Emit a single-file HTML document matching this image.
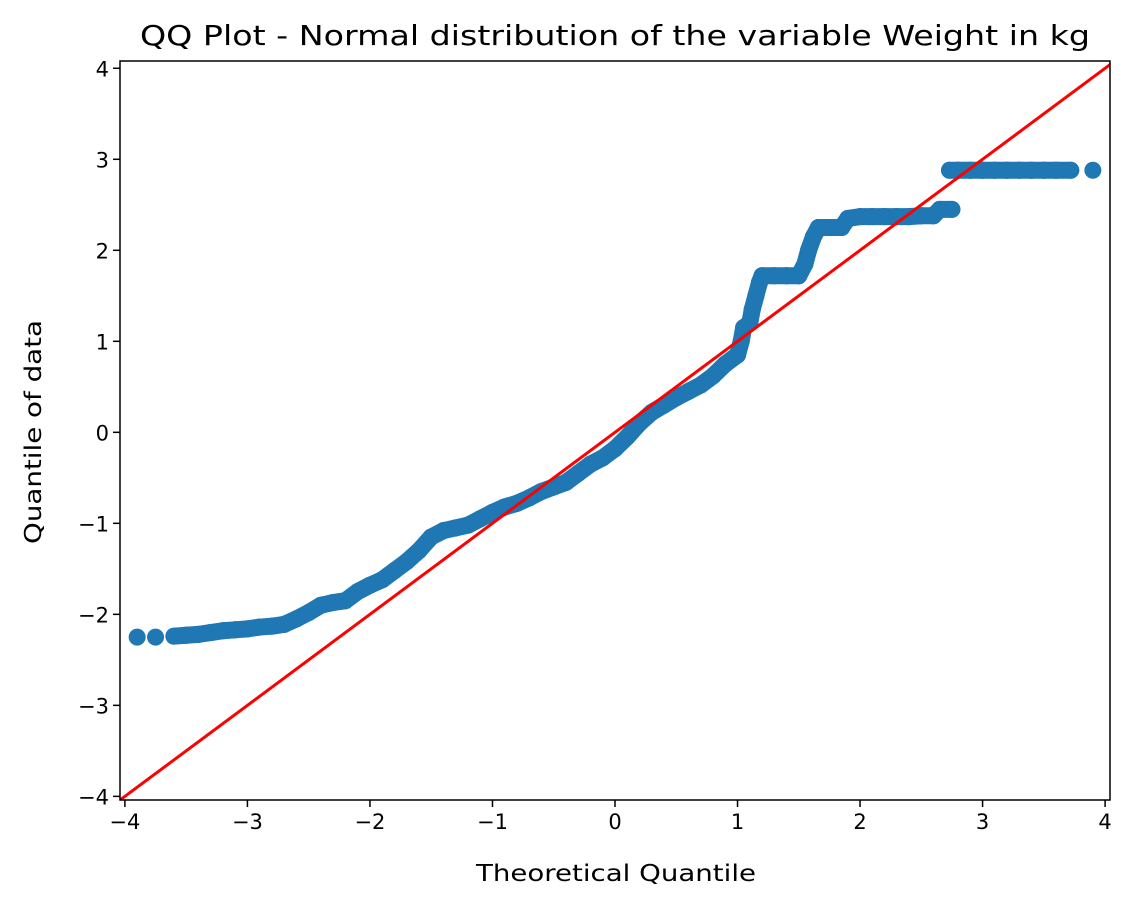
<!DOCTYPE html>
<html><head><meta charset="utf-8"><style>
body{margin:0;background:#fff;}
svg{display:block;font-family:"DejaVu Sans","Liberation Sans",sans-serif;}
</style></head><body>
<svg id="chart" width="1133" height="908">
<defs><clipPath id="clip"><rect x="120" y="61" width="990" height="739"/></clipPath></defs>
<rect x="0" y="0" width="1133" height="908" fill="#fff"/>
<g id="marks" clip-path="url(#clip)"></g>
<rect x="120" y="61" width="990" height="739" fill="none" stroke="#000" stroke-width="1.5"/>
<g id="xticks"></g>
<g id="yticks"></g>
<text x="615" y="45" text-anchor="middle" font-size="28" textLength="950" lengthAdjust="spacingAndGlyphs">QQ Plot - Normal distribution of the variable Weight in kg</text>
<text x="616" y="881" text-anchor="middle" font-size="23" textLength="280" lengthAdjust="spacingAndGlyphs">Theoretical Quantile</text>
<text x="0" y="0" transform="translate(41,432) rotate(-90)" text-anchor="middle" font-size="23" textLength="224" lengthAdjust="spacingAndGlyphs">Quantile of data</text>
</svg>
<script>
const theoretical=[-3.9,-3.75,-3.6,-3.5,-3.4,-3.3,-3.2,-3.1,-3.0,-2.9,-2.8,-2.7,-2.6,-2.5,-2.4,-2.3,-2.2,-2.1,-2.0,-1.9,-1.8,-1.7,-1.6,-1.5,-1.4,-1.3,-1.2,-1.1,-1.0,-0.9,-0.8,-0.7,-0.6,-0.5,-0.4,-0.3,-0.2,-0.1,0,0.1,0.2,0.3,0.4,0.5,0.6,0.7,0.8,0.9,1.0,1.03,1.05,1.1,1.12,1.15,1.18,1.2,1.3,1.4,1.5,1.55,1.58,1.62,1.66,1.75,1.85,1.9,2.0,2.1,2.2,2.3,2.4,2.5,2.6,2.65,2.75,2.73,2.8,2.9,3.0,3.1,3.2,3.3,3.4,3.5,3.6,3.72,3.9];
const observed=[-2.25,-2.25,-2.24,-2.23,-2.22,-2.2,-2.18,-2.17,-2.16,-2.14,-2.13,-2.11,-2.05,-1.98,-1.9,-1.87,-1.85,-1.75,-1.68,-1.62,-1.52,-1.42,-1.3,-1.15,-1.08,-1.05,-1.02,-0.95,-0.88,-0.82,-0.78,-0.72,-0.65,-0.6,-0.55,-0.45,-0.35,-0.28,-0.18,-0.05,0.1,0.22,0.3,0.38,0.45,0.52,0.62,0.75,0.85,1.0,1.15,1.2,1.35,1.5,1.65,1.72,1.72,1.72,1.72,1.85,2.0,2.15,2.25,2.25,2.25,2.35,2.37,2.37,2.37,2.37,2.37,2.38,2.38,2.45,2.45,2.88,2.88,2.88,2.88,2.88,2.88,2.88,2.88,2.88,2.88,2.88,2.88];
const xTickVals=[-4,-3,-2,-1,0,1,2,3,4];
const yTickVals=[-4,-3,-2,-1,0,1,2,3,4];
const xMin=-4.04,xMax=4.04,yMin=-4.04,yMax=4.08;
const L=120,R=1110,T=61,B=800;
const sx=v=>L+(v-xMin)/(xMax-xMin)*(R-L);
const sy=v=>B-(v-yMin)/(yMax-yMin)*(B-T);
const NS="http://www.w3.org/2000/svg";
const marks=document.getElementById('marks');
function mk(tag,attrs,parent){const e=document.createElementNS(NS,tag);for(const k in attrs)e.setAttribute(k,attrs[k]);parent.appendChild(e);return e;}
for(let i=1;i<theoretical.length;i++){
  if(Math.abs(theoretical[i]-theoretical[i-1])<0.14 && Math.abs(observed[i]-observed[i-1])<0.3){
    const s=mk('line',{x1:sx(theoretical[i-1]),y1:sy(observed[i-1]),x2:sx(theoretical[i]),y2:sy(observed[i]),stroke:'#1f77b4','stroke-width':17,'stroke-linecap':'round'},marks);
    
    
  }
}
for(let i=0;i<theoretical.length;i++){
  const c=mk('circle',{cx:sx(theoretical[i]),cy:sy(observed[i]),r:8.5,fill:'#1f77b4'},marks);
  
  
}
const ref=mk('line',{x1:sx(-4.2),y1:sy(-4.2),x2:sx(4.2),y2:sy(4.2),stroke:'#ff0000','stroke-width':3},marks);


const lab=v=>v<0?'\u2212'+Math.abs(v):String(v);
const xg=document.getElementById('xticks'),yg=document.getElementById('yticks');
xTickVals.forEach(v=>{
  const t=mk('line',{x1:sx(v),y1:B,x2:sx(v),y2:B+7,stroke:'#000','stroke-width':1.5},xg);
  
  
  const tx=mk('text',{x:sx(v),y:B+29,'text-anchor':'middle','font-size':21},xg);
  tx.textContent=lab(v);
  
  
});
yTickVals.forEach(v=>{
  const t=mk('line',{x1:L-7,y1:sy(v),x2:L,y2:sy(v),stroke:'#000','stroke-width':1.5},yg);
  
  
  const tx=mk('text',{x:L-11,y:sy(v)+8,'text-anchor':'end','font-size':21},yg);
  tx.textContent=lab(v);
  
  
});
</script>
</body></html>
